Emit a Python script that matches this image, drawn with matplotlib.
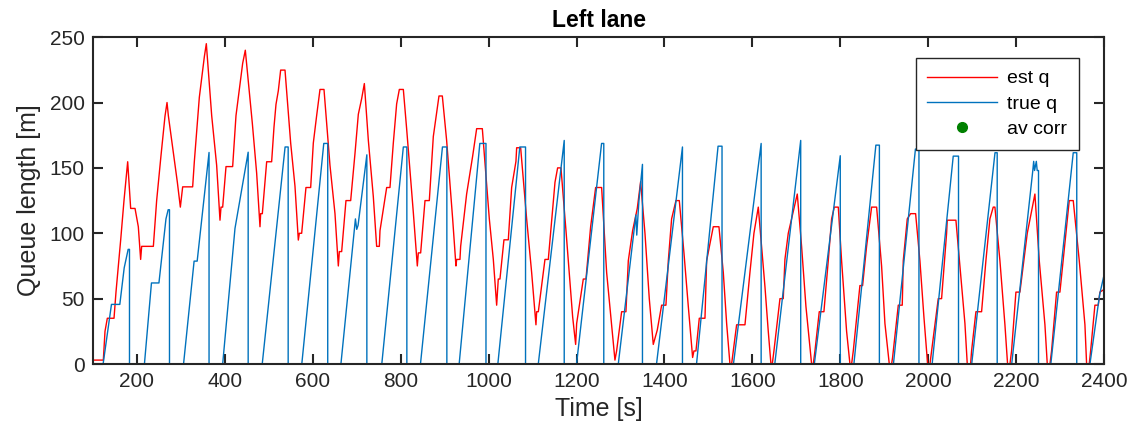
import matplotlib
matplotlib.use('Agg')
import matplotlib.pyplot as plt

# DATA (vertices of each trace)
# true queue: sawtooth, one rise and one vertical drop per cycle
true_t = [100, 123, 142, 161, 171, 180, 183, 183,
          217, 233, 250, 266, 271, 274, 274,
          306, 330, 337, 364, 364,
          395, 423, 453, 453,
          485, 537, 544, 544,
          575, 625, 634, 634,
          664, 697, 700, 703, 723, 723,
          757, 806, 814, 814,
          845, 895, 905, 905,
          933, 980, 994, 994,
          1021, 1071, 1084, 1084,
          1113, 1172, 1172,
          1200, 1257, 1262, 1262,
          1295, 1335, 1337, 1342, 1350, 1350,
          1382, 1441, 1441,
          1473, 1522, 1531, 1531,
          1557, 1620, 1620,
          1651, 1710, 1710,
          1741, 1800, 1800,
          1831, 1881, 1889, 1889,
          1921, 1971, 1979, 1979,
          2009, 2057, 2069, 2069,
          2099, 2152, 2157, 2157,
          2190, 2238, 2240, 2242, 2246, 2248, 2251, 2251,
          2279, 2330, 2338, 2338,
          2368, 2390, 2400]
true_q = [0, 0, 45.6, 45.6, 73.6, 87.7, 87.7, 0,
          0, 62, 62, 111, 118, 118, 0,
          0, 78.7, 78.7, 161.8, 0,
          0, 103.7, 162, 0,
          0, 166, 166, 0,
          0, 168.7, 168.7, 0,
          0, 111, 103, 106, 160, 0,
          0, 166, 166, 0,
          0, 166, 166, 0,
          0, 168.7, 168.7, 0,
          0, 166, 166, 0,
          0, 171, 0,
          0, 168.7, 168.7, 0,
          0, 114, 98.6, 125, 152.7, 0,
          0, 166, 0,
          0, 166.6, 166.6, 0,
          0, 168.7, 0,
          0, 171, 0,
          0, 159.3, 0,
          0, 167.4, 167.4, 0,
          0, 164.4, 164.4, 0,
          0, 159, 159, 0,
          0, 161.6, 161.6, 0,
          0, 148, 155, 148, 155, 148, 148, 0,
          0, 161.6, 161.6, 0,
          0, 53, 68]

# estimated queue
est_t = [100, 123.5, 127.3, 132.6, 147.8, 152.3, 163, 170.5, 178.9, 185.7, 195.6,
         203.1, 208.4, 210.7, 237.3, 244.8, 254.7, 263.8, 268.4, 271.4, 279,
         291.9, 298.7, 304, 326.7, 330.5, 341.9, 353.3, 357.8, 370, 381.3,
         388.9, 391.2, 395, 402.6, 417.7, 425.3, 440.5, 446.5, 462.5, 472.3,
         479.9, 481.4, 485.2, 495.1, 506.4, 511.7, 516.3, 521.6, 526.9, 536.8,
         549.7, 559.5, 567.1, 569.4, 574.7, 584.5, 595.2, 601.2, 608.8, 616.4,
         625.5, 639.1, 650.5, 658.1, 660.4, 665.7, 675.5, 686.2, 696, 703.6,
         711.2, 717.3, 726.4, 737.7, 745.3, 751.4, 752.9, 768.1, 775.6, 783.2,
         790.8, 796.9, 806, 813.5, 828.7, 837.8, 840.1, 845.4, 855.3, 865.1,
         874.2, 887.1, 894.7, 904.5, 918.2, 925.7, 927.3, 934.8, 936.4, 950,
         963.7, 972.8, 985.7, 1001.6, 1010.7, 1018.3, 1022, 1025.8, 1034.9, 1044.8,
         1052.4, 1062.2, 1063.8, 1072.9, 1086.5, 1097.9, 1107.7, 1109.3, 1113.1, 1128.2,
         1135.8, 1151, 1157, 1164.6, 1176, 1191.2, 1198, 1200.3, 1215.4, 1221.5,
         1232.1, 1243.5, 1257.1, 1268.5, 1279.8, 1287.4, 1291.2, 1302.6, 1312.4, 1317.8,
         1327.6, 1338.2, 1345.8, 1355.7, 1365.5, 1374.6, 1383.7, 1393.6, 1403.4, 1408.8,
         1416.3, 1426.2, 1433.8, 1444.4, 1454.3, 1464.1, 1467.1, 1471.7, 1479.3, 1492.2,
         1496, 1511.1, 1524, 1533.9, 1541.5, 1549, 1552.8, 1556.6, 1564.2, 1583.2,
         1594.5, 1603.6, 1613.5, 1621.1, 1628.7, 1636.2, 1642.3, 1645.3, 1649.1, 1662.8,
         1670.3, 1674.1, 1681.7, 1702.2, 1712, 1721.9, 1734.8, 1738.6, 1742.4, 1752.2,
         1762.8, 1772.7, 1780.3, 1786.4, 1795.5, 1803, 1814.4, 1822, 1825.8, 1829.6,
         1844.7, 1850.8, 1859.9, 1871.3, 1882.7, 1894, 1901.6, 1911.5, 1916.8, 1919,
         1932, 1941, 1943.3, 1952.4, 1960, 1971.4, 1981.2, 1990.3, 1998.7, 2004,
         2007.8, 2022.9, 2030.5, 2041.9, 2043.4, 2063.1, 2072.2, 2083.6, 2088.9, 2096.5,
         2098.7, 2108.6, 2121.5, 2131.3, 2140.4, 2148, 2151.8, 2163.2, 2174.6, 2180.6,
         2186, 2189.7, 2199.6, 2208.7, 2225.4, 2242.8, 2252.7, 2265.6, 2270.9, 2277,
         2280.7, 2292.1, 2299.7, 2313.3, 2320.9, 2330, 2343.7, 2356.6, 2360.4, 2366.4,
         2369.5, 2379.3, 2386.9, 2390.7, 2400]
est_q = [3, 3, 25, 35, 35, 55, 95, 125, 154.7, 119, 119,
         105, 80, 90, 90, 125, 159.5, 189.6, 200, 190, 171,
         139, 120, 135.5, 135.5, 154.7, 204, 235, 245, 190, 152,
         110, 120, 120, 151, 151, 190, 230, 240, 184, 146,
         105, 115, 115, 154.7, 154.7, 181, 198.6, 209, 224.8, 224.8,
         169, 136, 94.8, 100, 100, 135, 135, 169, 190, 210,
         210, 152, 115, 75, 86, 86, 125, 125, 161, 191,
         203, 214.5, 171, 128, 90, 90, 102, 135, 135, 169,
         199, 210, 210, 180, 116, 75, 85, 85, 125, 125,
         174, 205, 205, 171, 111, 75, 80, 80, 90, 130,
         159, 180, 180, 111, 80, 45, 65, 65, 95, 95,
         135, 155, 165.4, 165.4, 111, 70, 30, 40, 40, 80,
         80, 139, 150, 150, 102, 36, 15, 31, 65, 65,
         105, 135, 135, 70, 30, 3, 10, 40, 40, 79,
         102, 119, 139.4, 100, 50, 15, 26, 45, 45, 79,
         111, 125, 125, 85, 44, 5, 10, 10, 35, 35,
         79, 105, 105, 70, 31, 0, 0, 10, 30, 30,
         70, 100, 120, 90, 59, 25, 0, 0, 10, 50,
         50, 80, 100, 130, 90, 44, 0, 0, 10, 40,
         40, 79, 111, 120, 120, 79, 25, 0, 0, 10,
         60, 60, 90, 120, 120, 75, 31, 0, 0, 5,
         45, 45, 79, 111, 115, 115, 79, 36, 0, 0,
         10, 50, 50, 100, 110, 110, 75, 31, 0, 0,
         10, 40, 40, 79, 111, 120, 120, 79, 30, 0,
         0, 10, 55, 55, 100, 130, 79, 30, 0, 0,
         10, 55, 55, 100, 125, 125, 79, 30, 0, 0,
         10, 45, 45, 55, 57]

x_ticks = [200, 400, 600, 800, 1000, 1200, 1400, 1600, 1800, 2000, 2200, 2400]
y_ticks = [0, 50, 100, 150, 200, 250]

# STYLE
plt.rcParams['font.family'] = ['Liberation Sans', 'DejaVu Sans']
dark = '#262626'

fig = plt.figure(figsize=(11.3, 4.37), dpi=100)
ax = fig.add_axes([0.0823, 0.167, 0.8947, 0.748])

ax.plot(est_t, est_q, color='#FF0000', lw=1.0, label='est q')
ax.plot(true_t, true_q, color='#0072BD', lw=1.0, label='true q')
ax.plot([], [], 'o', color='#008000', markersize=7, label='av corr')

ax.set_xlim(100, 2400)
ax.set_ylim(0, 250)
ax.set_xticks(x_ticks)
ax.set_yticks(y_ticks)
ax.tick_params(direction='in', length=7, width=1.5, top=True, right=True,
               labelsize=15, colors=dark, pad=6)
for side in ax.spines.values():
    side.set_linewidth(1.5)
    side.set_color(dark)

ax.set_title('Left lane', fontsize=16.5, fontweight='bold', color='black', pad=7)
ax.set_xlabel('Time [s]', fontsize=18, color=dark, labelpad=4)
ax.set_ylabel('Queue length [m]', fontsize=18, color=dark, labelpad=6)

leg = ax.legend(loc='upper right', bbox_to_anchor=(0.975, 0.936), borderaxespad=0,
                fontsize=14, handlelength=3.6, handletextpad=0.5, frameon=True,
                fancybox=False, framealpha=1, edgecolor=dark, borderpad=0.6,
                labelspacing=0.4)
leg.get_frame().set_linewidth(1.0)

fig.savefig('out.png', dpi=100)
